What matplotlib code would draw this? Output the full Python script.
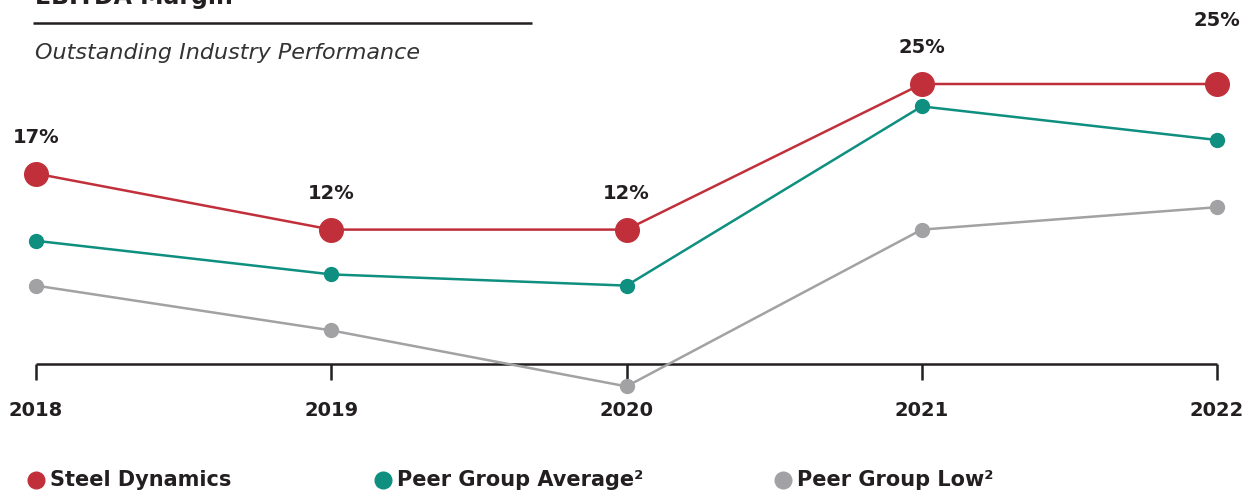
import matplotlib
matplotlib.use("Agg")
import matplotlib.pyplot as plt

years = [2018, 2019, 2020, 2021, 2022]
steel_dynamics = [17, 12, 12, 25, 25]
peer_avg = [11, 8, 7, 23, 20]
peer_low = [7, 3, -2, 12, 14]
sd_labels = ["17%", "12%", "12%", "25%", "25%"]
label_offsets = [26, 26, 26, 26, 46]  # points above the marker

RED = "#C1303A"
TEAL = "#0E8F7F"
GRAY = "#A2A2A4"
DARK = "#231F20"

plt.rcParams['font.family'] = ['DejaVu Sans']

fig = plt.figure(figsize=(12.56, 4.92), dpi=100)
ax = fig.add_axes([0, 0, 1, 1])
W, H = 1256, 492
px_per_year = (1217 - 36) / 4
px_per_pct = 11.2
ax.set_xlim(2018 - 36 / px_per_year, 2022 + (W - 1217) / px_per_year)
ax.set_ylim(0 - (H - 364) / px_per_pct, 25 + 84 / px_per_pct)
ax.axis('off')

# baseline axis and ticks
ax.plot([years[0], years[-1]], [0, 0], color=DARK, lw=1.8, solid_capstyle='butt', zorder=1)
for yr in years:
    ax.plot([yr, yr], [0, -16 / px_per_pct], color=DARK, lw=1.8, solid_capstyle='butt', zorder=1)
    ax.text(yr, -46 / px_per_pct, str(yr), ha='center', va='center', fontsize=14,
            fontweight='bold', color=DARK)

ax.plot(years, peer_low, color=GRAY, lw=1.8, marker='o', markersize=10, zorder=2)
ax.plot(years, peer_avg, color=TEAL, lw=1.8, marker='o', markersize=10, zorder=3)
ax.plot(years, steel_dynamics, color=RED, lw=1.8, marker='o', markersize=17, zorder=4)

for yr, v, lab, off in zip(years, steel_dynamics, sd_labels, label_offsets):
    ax.annotate(lab, (yr, v), xytext=(0, off), textcoords='offset points', ha='center',
                va='center', fontsize=14, fontweight='bold', color=DARK)

# title, rule, subtitle
fig.text(35 / W, 1 - 4 / H, "EBITDA Margin", ha='left', va='baseline', fontsize=17,
         fontweight='bold', color=DARK)
ax.plot([33 / W, 532 / W], [1 - 23 / H, 1 - 23 / H], transform=ax.transAxes, color=DARK,
        lw=1.8, solid_capstyle='butt', clip_on=False)
fig.text(35 / W, 1 - 53 / H, "Outstanding Industry Performance", ha='left', va='center',
         fontsize=16, fontstyle='italic', color="#333333")

# legend
legend_items = [("Steel Dynamics", RED, 36), ("Peer Group Average²", TEAL, 383),
                ("Peer Group Low²", GRAY, 783)]
for name, col, xp in legend_items:
    ax.plot([xp / W], [1 - 480 / H], transform=ax.transAxes, marker='o', markersize=12,
            color=col, clip_on=False, linestyle='none')
    fig.text((xp + 14) / W, 1 - 480 / H, name, ha='left', va='center', fontsize=15,
             fontweight='bold', color=DARK)

fig.savefig("out.png", dpi=100)
